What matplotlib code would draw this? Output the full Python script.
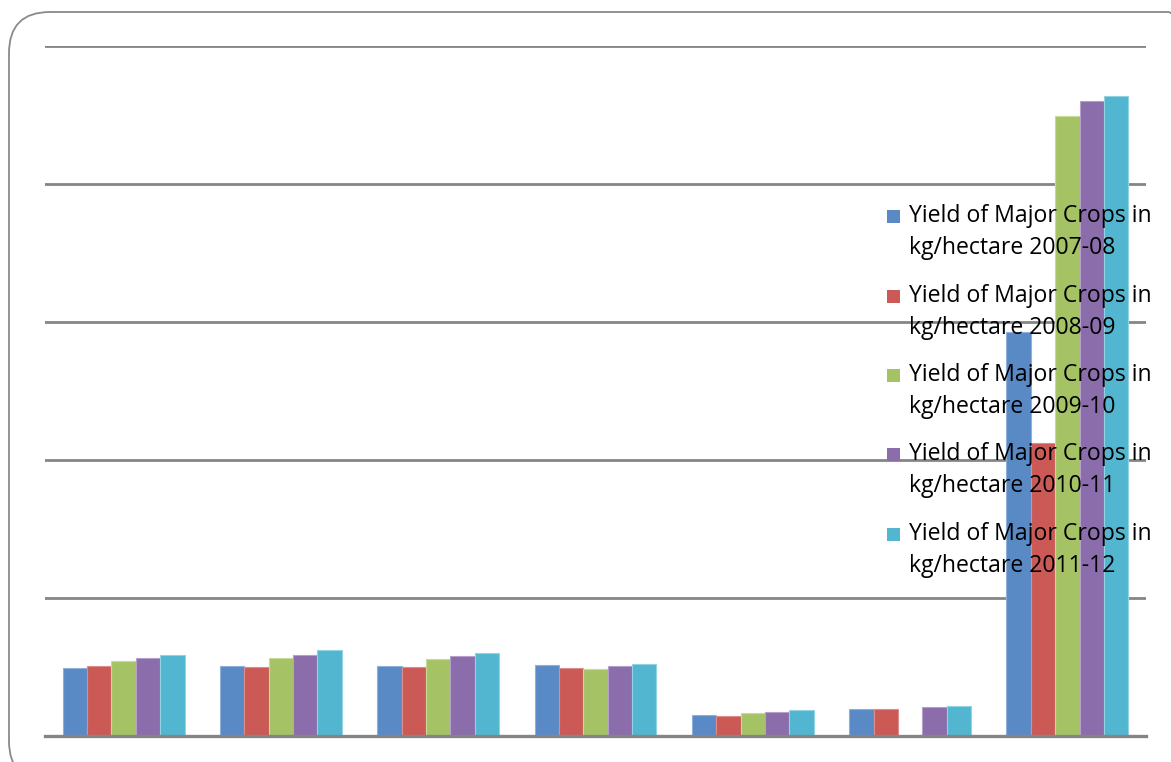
import matplotlib.pyplot as plt
import numpy as np
from matplotlib.patches import FancyBboxPatch, Rectangle

# crop names are not shown on the chart, only seven groups
groups = ["1", "2", "3", "4", "5", "6", "7"]
series_names = [
    "Yield of Major Crops in\nkg/hectare 2007-08",
    "Yield of Major Crops in\nkg/hectare 2008-09",
    "Yield of Major Crops in\nkg/hectare 2009-10",
    "Yield of Major Crops in\nkg/hectare 2010-11",
    "Yield of Major Crops in\nkg/hectare 2011-12",
]
y_2007_08 = [4960, 5050, 5050, 5120, 1500, 1930, 29300]
y_2008_09 = [5050, 4980, 5000, 4910, 1430, 1930, 21200]
y_2009_10 = [5460, 5650, 5610, 4860, 1670, 0, 44900]
y_2010_11 = [5680, 5900, 5830, 5050, 1770, 2080, 46000]
y_2011_12 = [5900, 6230, 6040, 5250, 1860, 2150, 46400]
values = [y_2007_08, y_2008_09, y_2009_10, y_2010_11, y_2011_12]

colors = ["#5A8AC6", "#CB5A57", "#A5C365", "#8A6DAA", "#53B6D0"]
edges = ["#8FB0DA", "#DE8C8A", "#C6DA9C", "#B3A0C8", "#92D2E2"]

W, H = 1171, 762
fig = plt.figure(figsize=(W / 100, H / 100), dpi=100)
ax = fig.add_axes([45 / W, 26 / H, (1146 - 45) / W, (736 - 46) / H])

x = np.arange(len(groups))
w = 0.155
for i, (vals, c, ec) in enumerate(zip(values, colors, edges)):
    ax.bar(x + (i - 2) * w, vals, width=w, color=c, edgecolor=ec,
           linewidth=0.8, zorder=3)

ax.set_xlim(-0.5, len(groups) - 0.5)
ax.set_ylim(0, 50000)
ax.set_yticks(np.arange(0, 50001, 10000))
ax.yaxis.grid(True, color="#858585", linewidth=2.0, zorder=0)
ax.set_axisbelow(True)
ax.tick_params(left=False, bottom=False, labelleft=False, labelbottom=False)
for s in ["top", "right", "left"]:
    ax.spines[s].set_visible(False)
ax.spines["bottom"].set_color("#858585")
ax.spines["bottom"].set_linewidth(2.4)
ax.spines["bottom"].set_zorder(4)

# rounded frame around the chart
frame = FancyBboxPatch((9 / W, -20 / H), 1200 / W, (H - 12 + 20) / H,
                       boxstyle="round,pad=0,rounding_size=0.035",
                       transform=fig.transFigure, fill=False,
                       edgecolor="#8a8a8a", linewidth=1.3, clip_on=False,
                       mutation_aspect=W / H)
fig.patches.append(frame)

# legend drawn by hand: marker sits beside the first line of each label
for i, (name, c) in enumerate(zip(series_names, colors)):
    base = 222 + 79.5 * i
    fig.patches.append(Rectangle((887 / W, 1 - (base + 1) / H), 13 / W, 13 / H,
                                 transform=fig.transFigure, facecolor=c,
                                 edgecolor="none", zorder=10))
    for j, line in enumerate(name.split("\n")):
        fig.text(909 / W, 1 - (base + 32 * j) / H, line, va="baseline",
                 ha="left", fontsize=16.6, family="Open Sans", color="black",
                 zorder=11)

fig.savefig("out.png", dpi=100)
